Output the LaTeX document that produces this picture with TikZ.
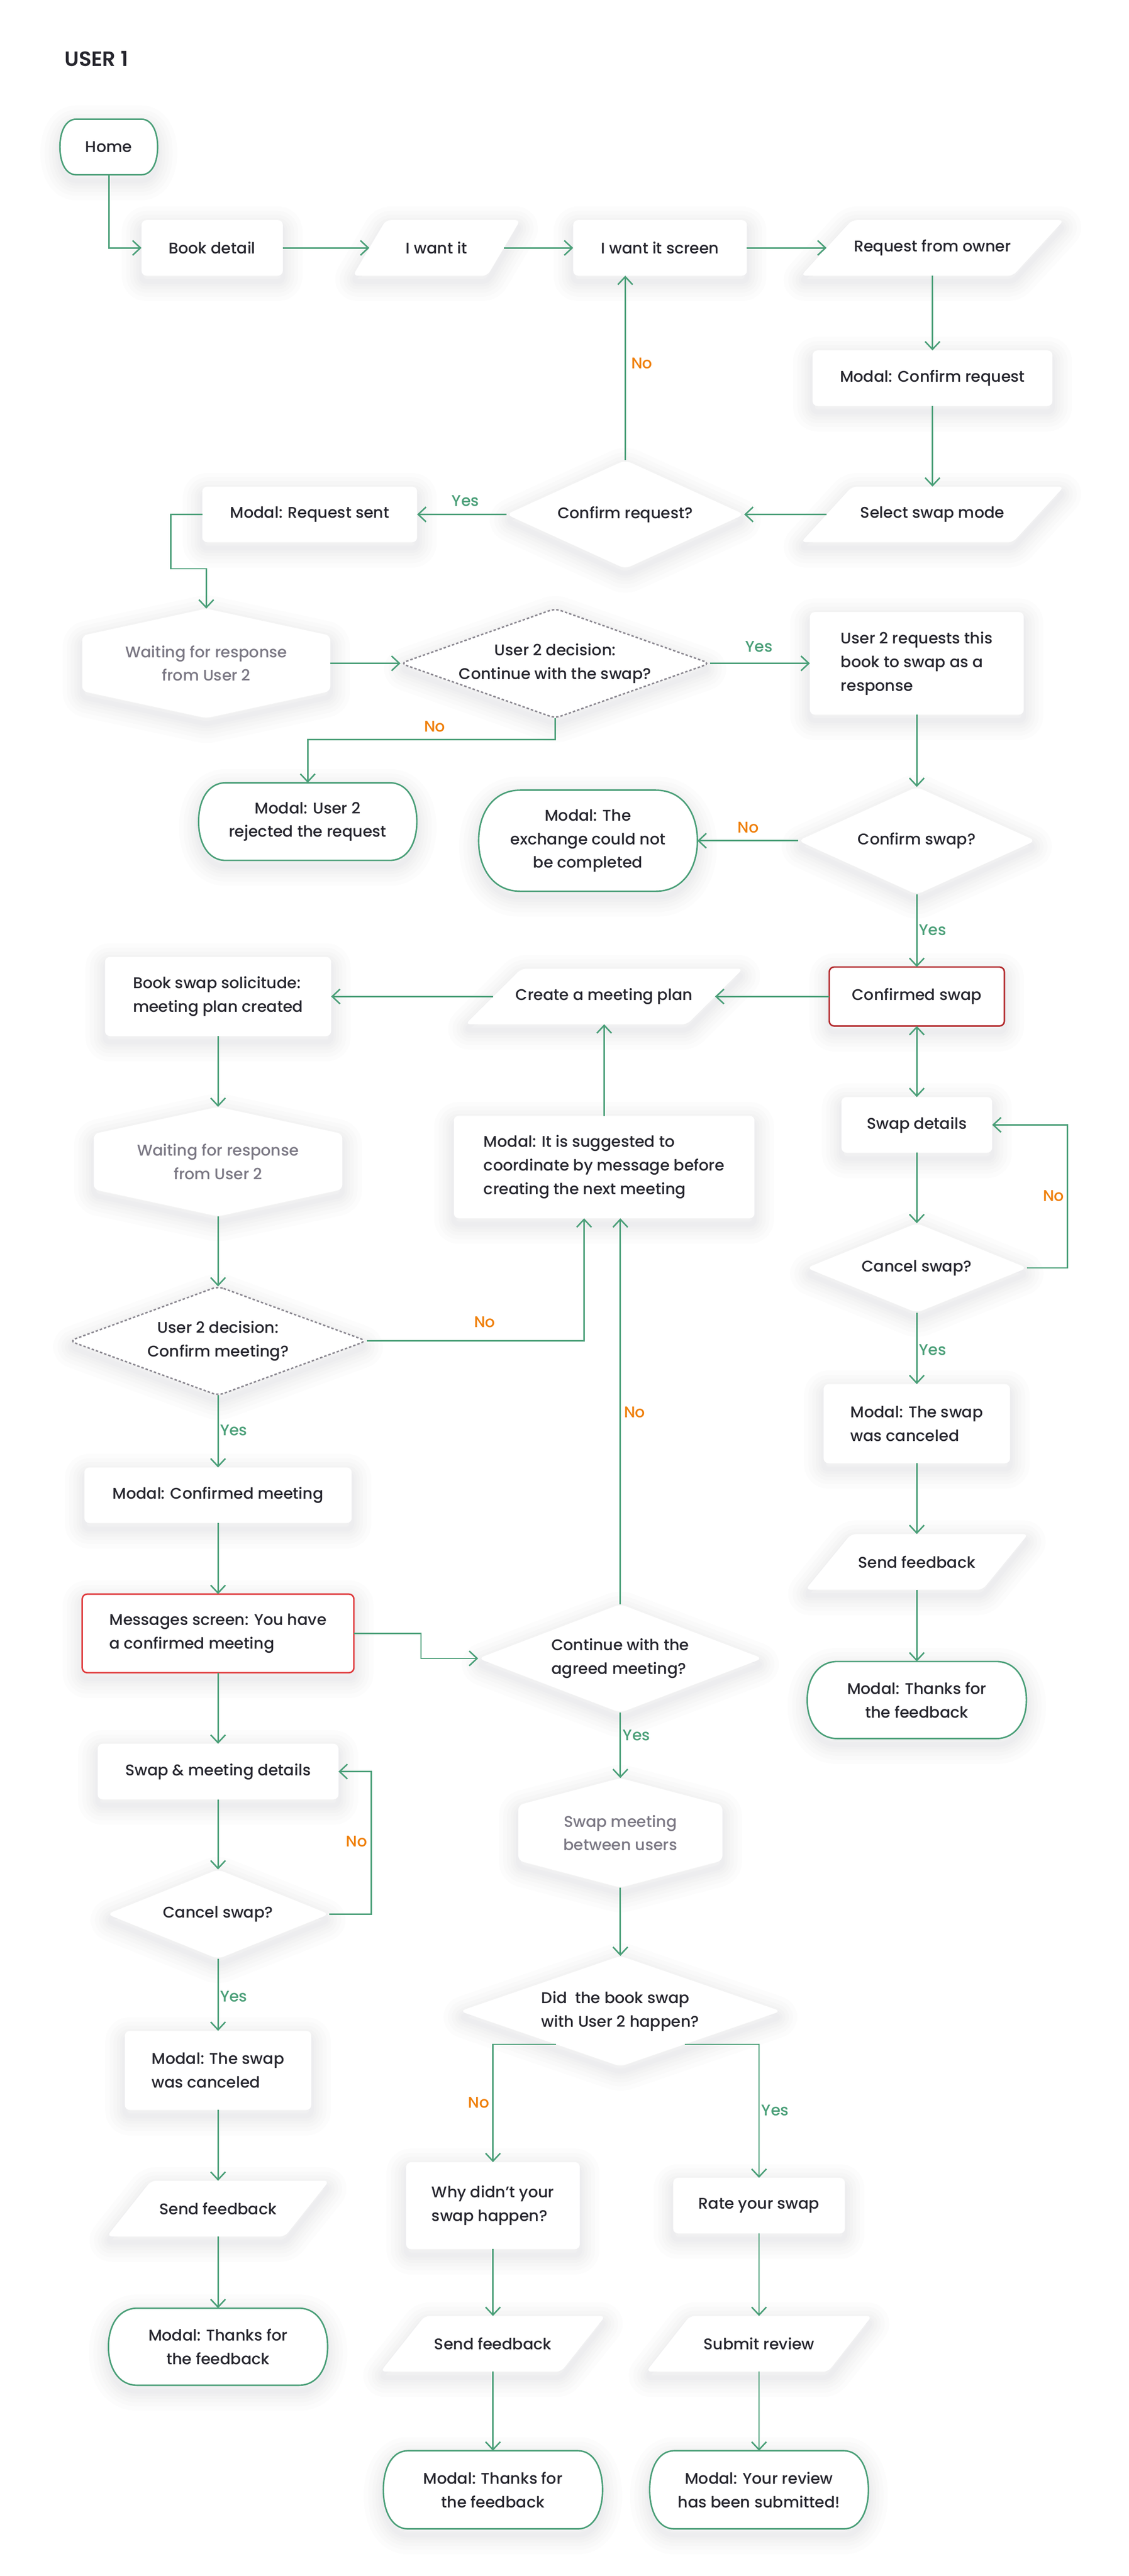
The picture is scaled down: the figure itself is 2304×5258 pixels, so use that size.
\documentclass[tikz,border=0pt]{standalone}
\usepackage{fontspec}
\setmainfont{Poppins}[UprightFont={* Medium},BoldFont={* SemiBold}]
\usetikzlibrary{arrows.meta,calc}
\pgfdeclarelayer{bg}
\pgfsetlayers{bg,main}
\definecolor{lgreen}{HTML}{4A9F78}
\definecolor{lorange}{HTML}{EF7F0A}
\definecolor{ink}{HTML}{26262E}
\definecolor{gtext}{HTML}{7B7884}
\definecolor{dgray}{HTML}{8A8790}
\definecolor{redA}{HTML}{B3292C}
\definecolor{redB}{HTML}{E03A3C}
\definecolor{shadowc}{HTML}{2F3E4A}
\tikzset{
  nd/.style={inner sep=0pt, text=ink, font=\fontsize{9}{13.7}\selectfont, align=center},
  ndl/.style={nd, align=left},
  ndg/.style={nd, text=gtext},
  sz/.style 2 args={minimum width=#1*0.01cm, minimum height=#2*0.01cm},
  >={Straight Barb[length=0.16cm,width=0.3cm]},
  conn/.style={draw=lgreen, line width=0.03cm, ->},
  shlayer/.style={preaction={draw=shadowc, solid, draw opacity=0.011, line width=#1, line join=round, transform canvas={yshift=-0.12cm}}},
  shp/.style={fill=white, shlayer=0.8cm, shlayer=0.62cm, shlayer=0.46cm, shlayer=0.32cm, shlayer=0.2cm, shlayer=0.1cm},
  lno/.style={inner sep=0pt, text=lorange, font=\fontsize{9}{11}\selectfont},
  lyes/.style={inner sep=0pt, text=lgreen, font=\fontsize{9}{11}\selectfont},
}
\newcommand\drawbox[2][]{\path[shp, rounded corners=0.1cm, #1] (#2.north west) rectangle (#2.south east);}
\newcommand\drawpara[2]{\path[shp, rounded corners=0.1cm] ([xshift=#2]#1.north west) -- ([xshift=#2]#1.north east) -- ([xshift=-#2]#1.south east) -- ([xshift=-#2]#1.south west) -- cycle;}
\newcommand\drawdia[2][]{\path[shp, rounded corners=0.12cm, #1] (#2.north) -- (#2.east) -- (#2.south) -- (#2.west) -- cycle;}
\newcommand\drawhex[1]{\path[shp, rounded corners=0.1cm] (#1.north) -- ([yshift=-0.55cm]#1.north east) -- ([yshift=0.55cm]#1.south east) -- (#1.south) -- ([yshift=0.55cm]#1.south west) -- ([yshift=-0.55cm]#1.north west) -- cycle;}
\newcommand\drawterm[2]{%
\path[shp, draw=lgreen, line width=0.03cm]
 ([xshift=#2]#1.north west) -- ([xshift=-#2]#1.north east)
 .. controls ([xshift=-0.35*#2]#1.north east) and ($(#1.north east)!0.45!(#1.east)$) .. (#1.east)
 .. controls ($(#1.south east)!0.45!(#1.east)$) and ([xshift=-0.35*#2]#1.south east) .. ([xshift=-#2]#1.south east)
 -- ([xshift=#2]#1.south west)
 .. controls ([xshift=0.35*#2]#1.south west) and ($(#1.south west)!0.45!(#1.west)$) .. (#1.west)
 .. controls ($(#1.north west)!0.45!(#1.west)$) and ([xshift=0.35*#2]#1.north west) .. ([xshift=#2]#1.north west) -- cycle;}
\begin{document}
\begin{tikzpicture}[x=0.01cm,y=-0.01cm]
\useasboundingbox (0,0) rectangle (2304,5258);
% ---------- nodes ----------
\node[anchor=west, inner sep=0pt, text=ink, font=\fontsize{12}{14}\selectfont\bfseries] (title) at (131,120) {USER 1};
\node[nd, sz={198}{112}] (home) at (222,300) {Home};
\node[nd, sz={287}{112}] (bd) at (433,506) {Book detail};
\node[nd, sz={273}{112}] (iwi) at (891,506) {I want it};
\node[nd, sz={353}{112}] (iws) at (1347,506) {I want it screen};
\node[nd, sz={431}{112}] (rfo) at (1903,506) {Request from owner};
\node[nd, sz={488}{112}] (mcr) at (1903,772) {Modal: Confirm request};
\node[nd, sz={431}{112}] (ssm) at (1903,1050) {Select swap mode};
\node[nd, sz={484}{220}] (cr) at (1276,1050) {Confirm request?};
\node[nd, sz={437}{112}] (mrs) at (632,1050) {Modal: Request sent};
\node[ndg, sz={505}{222}] (w1) at (421,1354) {Waiting for response\\from User 2};
\node[nd, sz={630}{222}] (d1) at (1133,1354) {User 2 decision:\\Continue with the swap?};
\node[ndl, sz={435}{208}] (u2r) at (1871,1354) {User 2 requests this\\book to swap as a\\response};
\node[nd, sz={444}{157}] (rej) at (628,1677) {Modal: User 2\\rejected the request};
\node[nd, sz={483}{218}] (cs) at (1871,1716) {Confirm swap?};
\node[nd, sz={445}{205}] (exch) at (1200,1716) {Modal: The\\exchange could not\\be completed};
\node[nd, sz={356}{119}] (conf) at (1871,2034) {Confirmed swap};
\node[nd, sz={451}{112}] (cmp) at (1233,2034) {Create a meeting plan};
\node[ndl, sz={460}{160}] (bss) at (445,2034) {Book swap solicitude:\\meeting plan created};
\node[ndg, sz={506}{222}] (w2) at (445,2371) {Waiting for response\\from User 2};
\node[nd, sz={306}{112}] (sd) at (1871,2296) {Swap details};
\node[ndl, sz={612}{208}] (sug) at (1233,2382) {Modal: It is suggested to\\coordinate by message before\\creating the next meeting};
\node[nd, sz={449}{181}] (cs2) at (1871,2588) {Cancel swap?};
\node[nd, sz={605}{221}] (d2) at (445,2737) {User 2 decision:\\Confirm meeting?};
\node[ndl, sz={379}{160}] (can1) at (1871,2906) {Modal: The swap\\was canceled};
\node[nd, sz={544}{112}] (mcm) at (445,3052) {Modal: Confirmed meeting};
\node[nd, sz={360}{112}] (sf1) at (1871,3188) {Send feedback};
\node[ndl, sz={553}{159}] (msg) at (445,3334) {Messages screen: You have\\a confirmed meeting};
\node[ndl, sz={579}{220}] (d3) at (1266,3385) {Continue with the\\agreed meeting?};
\node[nd, sz={446}{156}] (th1) at (1871,3470) {Modal: Thanks for\\the feedback};
\node[nd, sz={490}{112}] (smd) at (445,3616) {Swap \& meeting details};
\node[ndg, sz={415}{222}] (hx3) at (1266,3741) {Swap meeting\\between users};
\node[nd, sz={452}{181}] (cs3) at (445,3907) {Cancel swap?};
\node[ndl, sz={654}{224}] (d4) at (1266,4105) {Did\ \ the book swap\\with User 2 happen?};
\node[ndl, sz={379}{160}] (can2) at (445,4226) {Modal: The swap\\was canceled};
\node[ndl, sz={353}{176}] (why) at (1006,4502) {Why didn’t your\\swap happen?};
\node[nd, sz={349}{112}] (rate) at (1549,4502) {Rate your swap};
\node[nd, sz={362}{112}] (sf2) at (445,4508) {Send feedback};
\node[nd, sz={367}{112}] (sf3) at (1006,4784) {Send feedback};
\node[nd, sz={370}{112}] (sr) at (1549,4784) {Submit review};
\node[nd, sz={446}{156}] (th2) at (445,4790) {Modal: Thanks for\\the feedback};
\node[nd, sz={446}{158}] (th3) at (1006,5082) {Modal: Thanks for\\the feedback};
\node[nd, sz={445}{158}] (th4) at (1549,5082) {Modal: Your review\\has been submitted!};
% ---------- shapes ----------
\begin{pgfonlayer}{bg}
\fill[white] (0,0) rectangle (2304,5258);
\drawterm{home}{0.33cm}
\drawbox{bd}
\drawpara{iwi}{0.335cm}
\drawbox{iws}
\drawpara{rfo}{0.52cm}
\drawbox{mcr}
\drawpara{ssm}{0.52cm}
\drawdia{cr}
\drawbox{mrs}
\drawhex{w1}
\drawdia[draw=dgray, line width=0.03cm, dash pattern=on 0.05cm off 0.04cm]{d1}
\drawbox{u2r}
\drawterm{rej}{0.55cm}
\drawdia{cs}
\drawterm{exch}{0.85cm}
\drawbox[draw=redA, line width=0.03cm]{conf}
\drawpara{cmp}{0.57cm}
\drawbox{bss}
\drawhex{w2}
\drawbox{sd}
\drawbox{sug}
\drawdia{cs2}
\drawdia[draw=dgray, line width=0.03cm, dash pattern=on 0.05cm off 0.04cm]{d2}
\drawbox{can1}
\drawbox{mcm}
\drawpara{sf1}{0.465cm}
\drawbox[draw=redB, line width=0.03cm]{msg}
\drawdia{d3}
\drawterm{th1}{0.62cm}
\drawbox{smd}
\drawhex{hx3}
\drawdia{cs3}
\drawdia{d4}
\drawbox{can2}
\drawbox{why}
\drawbox{rate}
\drawpara{sf2}{0.45cm}
\drawpara{sf3}{0.45cm}
\drawpara{sr}{0.445cm}
\drawterm{th2}{0.59cm}
\drawterm{th3}{0.5cm}
\drawterm{th4}{0.5cm}
\end{pgfonlayer}
% ---------- connectors ----------
\draw[conn] (home.south) |- (bd.west);
\draw[conn] (bd.east) -- (iwi.west);
\draw[conn] (iwi.east) -- (iws.west);
\draw[conn] (iws.east) -- (rfo.west);
\draw[conn] (rfo.south) -- (mcr.north);
\draw[conn] (mcr.south) -- (ssm.north);
\draw[conn] (ssm.west) -- (cr.east);
\draw[conn] (cr.west) -- (mrs.east);
\draw[conn] (cr.north) -- (cr.north |- iws.south);
\draw[conn] (mrs.west) -- ++(-64,0) -- ++(0,111) -| (w1.north);
\draw[conn] (w1.east) -- (d1.west);
\draw[conn] (d1.east) -- (u2r.west);
\draw[conn] (d1.south) -- ++(0,44) -| (rej.north);
\draw[conn] (u2r.south) -- (cs.north);
\draw[conn] (cs.west) -- (exch.east);
\draw[conn] (cs.south) -- (conf.north);
\draw[conn] (conf.west) -- (cmp.east);
\draw[conn] (cmp.west) -- (bss.east);
\draw[conn] (bss.south) -- (w2.north);
\draw[conn] (w2.south) -- (d2.north);
\draw[conn] (d2.east) -| ($(sug.south)+(-41,0)$);
\draw[conn] (sug.north) -- (cmp.south);
\draw[conn] (d3.north) -- (d3.north |- sug.south);
\draw[conn, <->] (conf.south) -- (sd.north);
\draw[conn] (sd.south) -- (cs2.north);
\draw[conn] (cs2.east) -- ++(82,0) |- (sd.east);
\draw[conn] (cs2.south) -- (can1.north);
\draw[conn] (can1.south) -- (sf1.north);
\draw[conn] (sf1.south) -- (th1.north);
\draw[conn] (d2.south) -- (mcm.north);
\draw[conn] (mcm.south) -- (msg.north);
\draw[conn] (msg.east) -- ++(137,0) |- (d3.west);
\draw[conn] (d3.south) -- (hx3.north);
\draw[conn] (hx3.south) -- (d4.north);
\draw[conn] ($(d4.west)!0.6!(d4.south)$) -| (why.north);
\draw[conn] ($(d4.east)!0.6!(d4.south)$) -| (rate.north);
\draw[conn] (why.south) -- (sf3.north);
\draw[conn] (sf3.south) -- (th3.north);
\draw[conn] (rate.south) -- (sr.north);
\draw[conn] (sr.south) -- (th4.north);
\draw[conn] (msg.south) -- (smd.north);
\draw[conn] (smd.south) -- (cs3.north);
\draw[conn] (cs3.east) -- ++(86,0) |- (smd.east);
\draw[conn] (cs3.south) -- (can2.north);
\draw[conn] (can2.south) -- (sf2.north);
\draw[conn] (sf2.south) -- (th2.north);
% ---------- labels ----------
\node[lno] (l1) at (1310,742) {No};
\node[lyes] (l2) at (950,1022) {Yes};
\node[lyes] (l3) at (1549,1320) {Yes};
\node[lno] (l4) at (887,1483) {No};
\node[lno] (l5) at (1527,1689) {No};
\node[lyes] (l6) at (1903,1898) {Yes};
\node[lno] (l7) at (2150,2441) {No};
\node[lyes] (l8) at (1903,2755) {Yes};
\node[lno] (l9) at (989,2699) {No};
\node[lno] (l10) at (1295,2883) {No};
\node[lyes] (l11) at (477,2919) {Yes};
\node[lyes] (l12) at (1299,3542) {Yes};
\node[lno] (l13) at (728,3759) {No};
\node[lyes] (l14) at (477,4075) {Yes};
\node[lno] (l15) at (977,4292) {No};
\node[lyes] (l16) at (1582,4307) {Yes};
\end{tikzpicture}
\end{document}
